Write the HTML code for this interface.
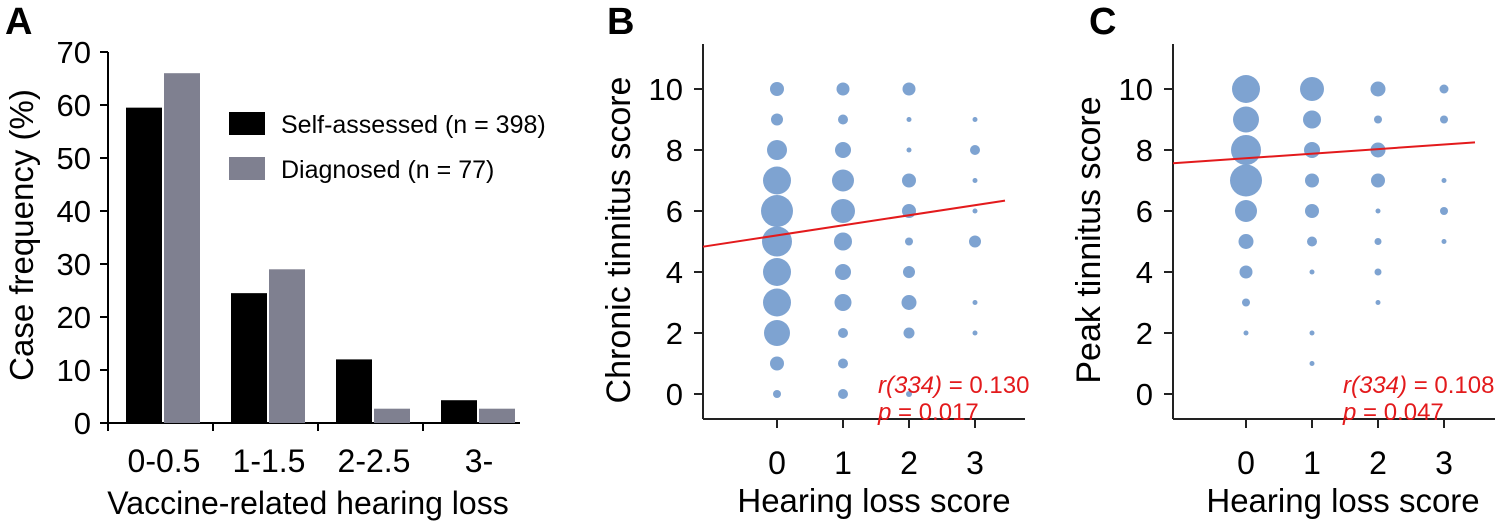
<!DOCTYPE html>
<html><head><meta charset="utf-8"><style>
html,body{margin:0;padding:0;background:#fff;}
svg{display:block;font-family:"Liberation Sans",Arial,sans-serif;}
</style></head><body>
<svg id="fig" width="1500" height="524" viewBox="0 0 1500 524">
<text x="5" y="34" font-size="38" font-weight="bold">A</text>
<text x="607" y="34" font-size="38" font-weight="bold">B</text>
<text x="1089" y="34" font-size="38" font-weight="bold">C</text>
<g id="pa"></g>
<g id="pb"></g>
<g id="pc"></g>
</svg>
<script>
const NS="http://www.w3.org/2000/svg";
// Panel A data
const barCategories=["0-0.5","1-1.5","2-2.5","3-"];
const selfAssessed=[59.5,24.5,12,4.3];
const diagnosed=[66,29,2.7,2.7];
const yTicksA=[0,10,20,30,40,50,60,70];
// Panel B data: [hearing score, tinnitus score, radius-size]
const bubblesB=[
[0,10,7],[0,9,6],[0,8,10],[0,7,14],[0,6,16],[0,5,15],[0,4,14],[0,3,14],[0,2,13],[0,1,7],[0,0,4],
[1,10,6.5],[1,9,5],[1,8,8],[1,7,11],[1,6,12],[1,5,9],[1,4,8],[1,3,8.5],[1,2,5],[1,1,5],[1,0,5],
[2,10,6.5],[2,9,2.5],[2,8,2.5],[2,7,7],[2,6,7],[2,5,4],[2,4,6],[2,3,7.5],[2,2,5.5],[2,0,3],
[3,9,2.5],[3,8,5],[3,7,2.5],[3,6,2.5],[3,5,6],[3,3,2.5],[3,2,2.5]];
const fitB=[5.2,0.33]; // intercept, slope
// Panel C data
const bubblesC=[
[0,10,14],[0,9,13],[0,8,15],[0,7,16],[0,6,11],[0,5,7.5],[0,4,6.5],[0,3,4],[0,2,2.5],
[1,10,12],[1,9,9],[1,8,8],[1,7,7],[1,6,7],[1,5,5],[1,4,2.5],[1,2,2.5],[1,1,2.5],
[2,10,7.5],[2,9,4],[2,8,7.5],[2,7,7],[2,6,2.5],[2,5,3.5],[2,4,3.5],[2,3,2.5],
[3,10,4.5],[3,9,4],[3,7,2.5],[3,6,4],[3,5,2.5]];
const fitC=[7.73,0.15];
const xTicksS=[0,1,2,3];
const yTicksS=[0,2,4,6,8,10];

function mk(parent,tag,attrs,text){const e=document.createElementNS(NS,tag);for(const k in attrs)e.setAttribute(k,attrs[k]);if(text!==undefined)e.textContent=text;parent.appendChild(e);return e;}

// ---- Panel A
(function(){
const g=document.getElementById('pa');
const y=v=>423-v*5.3;
const gx=i=>108+105*i;
let e=mk(g,'line',{x1:108,y1:52,x2:108,y2:423,stroke:'#000','stroke-width':2});

e=mk(g,'line',{x1:100,y1:423,x2:520,y2:423,stroke:'#000','stroke-width':2});

yTicksA.forEach(t=>{
 mk(g,'line',{x1:100,y1:y(t),x2:108,y2:y(t),stroke:'#000','stroke-width':2});
 e=mk(g,'text',{x:91,y:y(t)+11,'font-size':31,'text-anchor':'end'},t);
 
});
barCategories.forEach((c,i)=>{
 mk(g,'line',{x1:gx(i),y1:423,x2:gx(i),y2:431,stroke:'#000','stroke-width':2});
 let b=mk(g,'rect',{x:gx(i)+18,y:y(selfAssessed[i]),width:36,height:423-y(selfAssessed[i]),fill:'#000'});
 
 b=mk(g,'rect',{x:gx(i)+56,y:y(diagnosed[i]),width:36,height:423-y(diagnosed[i]),fill:'#7f8090'});
 
 e=mk(g,'text',{x:gx(i)+56,y:472,'font-size':32,'text-anchor':'middle'},c);
 
});
e=mk(g,'text',{x:308,y:514,'font-size':32,'text-anchor':'middle'},'Vaccine-related hearing loss');

e=mk(g,'text',{x:0,y:0,'font-size':33,'text-anchor':'middle',transform:'translate(33,235) rotate(-90)'},'Case frequency (%)');

e=mk(g,'rect',{x:229,y:112,width:36,height:23,fill:'#000'});

e=mk(g,'text',{x:281,y:133,'font-size':25},'Self-assessed (n = 398)');

e=mk(g,'rect',{x:229,y:157,width:36,height:23,fill:'#7f8090'});

e=mk(g,'text',{x:281,y:178,'font-size':25},'Diagnosed (n = 77)');

})();

// ---- scatter panels
function scatter(id,ax,x0,right,bubbles,fit,title,rval,ptxt,txtX,titleX){
 const g=document.getElementById(id);
 const y=v=>394-v*30.5;
 const x=v=>x0+66*v;
 let e=mk(g,'line',{x1:ax,y1:44,x2:ax,y2:419,stroke:'#222','stroke-width':2});
 
 e=mk(g,'line',{x1:ax,y1:419,x2:right,y2:419,stroke:'#222','stroke-width':2});
 
 yTicksS.forEach(t=>{
  mk(g,'line',{x1:ax-9,y1:y(t),x2:ax,y2:y(t),stroke:'#222','stroke-width':2});
  e=mk(g,'text',{x:ax-20,y:y(t)+11,'font-size':31,'text-anchor':'end'},t);
  
 });
 xTicksS.forEach(t=>{
  mk(g,'line',{x1:x(t),y1:419,x2:x(t),y2:428,stroke:'#222','stroke-width':2});
  e=mk(g,'text',{x:x(t),y:474,'font-size':32,'text-anchor':'middle'},t);
  
 });
 bubbles.forEach(b=>{
  const c=mk(g,'circle',{cx:x(b[0]),cy:y(b[1]),r:b[2],fill:'#7aa0d0','fill-opacity':0.97});
  
 });
 const xe=(right-20-x0)/66, xs=(ax-x0)/66;
 e=mk(g,'line',{x1:ax,y1:y(fit[0]+fit[1]*xs),x2:right-20,y2:y(fit[0]+fit[1]*xe),stroke:'#e31a1c','stroke-width':2});
 
 e=mk(g,'text',{x:txtX,y:393,'font-size':24,fill:'#e31a1c'});
 e.innerHTML='<tspan font-style="italic">r(334)</tspan> = '+rval;
 
 e=mk(g,'text',{x:txtX,y:420,'font-size':24,fill:'#e31a1c'});
 e.innerHTML='<tspan font-style="italic">p</tspan> = '+ptxt;
 
 e=mk(g,'text',{x:x0+97,y:512,'font-size':33,'text-anchor':'middle'},'Hearing loss score');
 
 e=mk(g,'text',{x:0,y:0,'font-size':34,'text-anchor':'middle',transform:'translate('+titleX+',240) rotate(-90)'},title);
 
}
scatter('pb',703,777,1025,bubblesB,fitB,'Chronic tinnitus score','0.130','0.017',878,630);
scatter('pc',1173,1246,1495,bubblesC,fitC,'Peak tinnitus score','0.108','0.047',1343,1100);
</script>
</body></html>
